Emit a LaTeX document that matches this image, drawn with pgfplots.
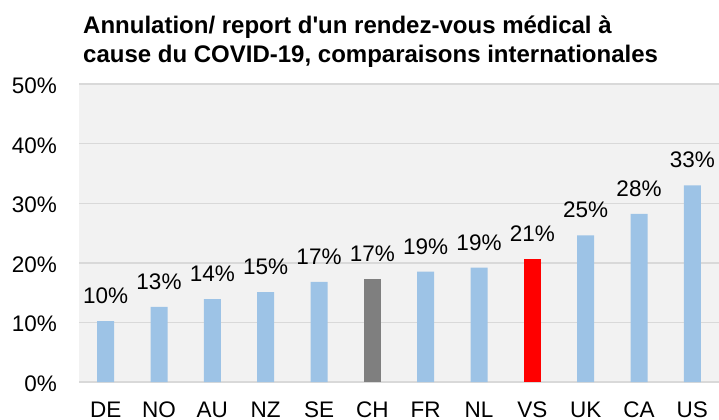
\documentclass[border=0pt]{standalone}
\usepackage{pgfplots}
\pgfplotsset{compat=1.18}
\usepackage{fontspec}
\setmainfont{Liberation Sans}
\definecolor{bgc}{HTML}{F2F2F2}
\definecolor{gridc}{HTML}{D9D9D9}
\definecolor{barblue}{HTML}{9DC3E6}
\definecolor{bargray}{HTML}{7F7F7F}
\definecolor{barred}{HTML}{FF0000}
\begin{document}
\begin{tikzpicture}[x=1bp,y=1bp]
\path[use as bounding box] (0,0) rectangle (719,419);
\node[anchor=base west,inner sep=0,font=\fontsize{24bp}{28bp}\selectfont\bfseries] at (83,385.7) {Annulation/ report d\textquotesingle un rendez-vous médical à};
\node[anchor=base west,inner sep=0,font=\fontsize{24bp}{28bp}\selectfont\bfseries] at (83,356.3) {cause du COVID-19, comparaisons internationales};
\begin{axis}[
  at={(79bp,37bp)}, anchor=south west,
  scale only axis, width=640bp, height=298bp,
  xmin=-0.5, xmax=11.5, ymin=0, ymax=50,
  axis line style={draw=none},
  major tick length=0pt,
  axis background/.style={fill=bgc},
  ymajorgrids, grid style={gridc, line width=1.4bp},
  ytick={0,10,20,30,40,50},
  yticklabels={0\%,10\%,20\%,30\%,40\%,50\%},
  xtick={0,...,11},
  xticklabels={DE,NO,AU,NZ,SE,CH,FR,NL,VS,UK,CA,US},
  tick label style={font=\fontsize{22.5bp}{26bp}\selectfont, inner sep=0pt},
  yticklabel style={anchor=base east, xshift=-22bp, yshift=-9.5bp},
  xticklabel style={anchor=base, yshift=-35.5bp, text depth=0pt},
  ybar, bar width=17bp, bar shift=0pt,
  nodes near coords,
  point meta=explicit symbolic,
  every node near coord/.append style={font=\fontsize{22.5bp}{26bp}\selectfont, anchor=base, inner sep=0pt, yshift=17.5bp, text=black},
  clip=false,
]
\addplot[draw=none, fill=barblue] coordinates {
 (0,10.2) [10\%]
 (1,12.6) [13\%]
 (2,13.9) [14\%]
 (3,15.1) [15\%]
 (4,16.8) [17\%]
 (6,18.5) [19\%]
 (7,19.2) [19\%]
 (9,24.6) [25\%]
 (10,28.2) [28\%]
 (11,33.0) [33\%]
};
\addplot[draw=none, fill=bargray] coordinates {(5,17.3) [17\%]};
\addplot[draw=none, fill=barred] coordinates {(8,20.6) [21\%]};
\end{axis}
\end{tikzpicture}
\end{document}
